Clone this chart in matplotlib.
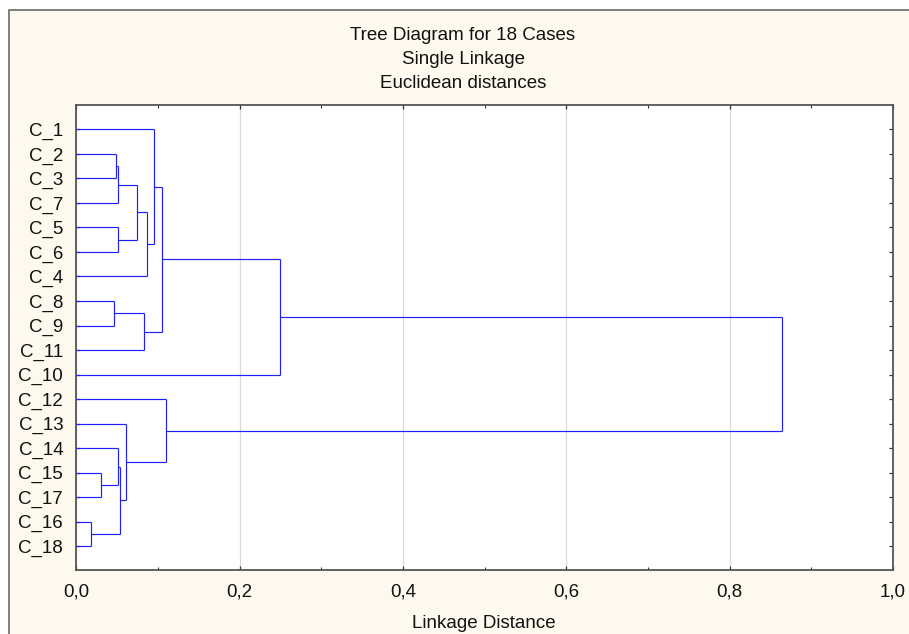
import matplotlib
matplotlib.use("Agg")
import matplotlib.pyplot as plt
from matplotlib.patches import Rectangle
from matplotlib.ticker import MultipleLocator, FuncFormatter

# ---------------- data ----------------
leaf_labels = ["C_1", "C_2", "C_3", "C_7", "C_5", "C_6", "C_4", "C_8", "C_9",
               "C_11", "C_10", "C_12", "C_13", "C_14", "C_15", "C_17", "C_16", "C_18"]
# merges: index < 18 -> leaf (display order); index >= 18 -> earlier merge (18 + k)
merge_left = [16, 14, 7, 1, 13, 21, 4, 22, 12, 23, 20, 27, 0, 30, 11, 31, 33]
merge_right = [17, 15, 8, 2, 19, 3, 5, 18, 25, 24, 9, 6, 29, 28, 26, 10, 32]
merge_height = [0.0176, 0.0306, 0.0458, 0.0482, 0.0507, 0.0515, 0.0515, 0.0531,
                0.0609, 0.0747, 0.0833, 0.0862, 0.0948, 0.1053, 0.110, 0.2498, 0.864]

title_lines = ["Tree Diagram for 18 Cases", "Single Linkage", "Euclidean distances"]
x_label = "Linkage Distance"

# ---------------- figure ----------------
W, H = 909, 634
FS = 13.5
plt.rcParams['font.family'] = ['Liberation Sans', 'DejaVu Sans']
fig = plt.figure(figsize=(W / 100, H / 100), dpi=100)
fig.patch.set_facecolor('white')

cream = '#FDF9EF'
# cream panel with dark border on top/left
fig.patches.append(Rectangle((9 / W, -0.05), 1.1, 1 - 10 / H + 0.05,
                             transform=fig.transFigure, facecolor=cream,
                             edgecolor='#6a6a6a', linewidth=1.2, zorder=-5))

ax = fig.add_axes([76.3 / W, 1 - 570.3 / H, (893 - 76.3) / W, (570.3 - 105.3) / H])
ax.set_zorder(2)
ax.set_facecolor('white')

n = len(leaf_labels)
ypos = {i: float(i) for i in range(n)}
xpos = {i: 0.0 for i in range(n)}
line_color = '#1f1fff'
for k, (a, b, h) in enumerate(zip(merge_left, merge_right, merge_height)):
    ya, yb = ypos[a], ypos[b]
    ax.plot([xpos[a], h], [ya, ya], color=line_color, lw=0.85, solid_capstyle='butt', zorder=3)
    ax.plot([xpos[b], h], [yb, yb], color=line_color, lw=0.85, solid_capstyle='butt', zorder=3)
    ax.plot([h, h], [ya, yb], color=line_color, lw=0.85, solid_capstyle='butt', zorder=3)
    ypos[n + k] = (ya + yb) / 2
    xpos[n + k] = h

ax.set_xlim(0, 1.0)
ax.set_ylim(n - 1 + 0.98, -0.98)
ax.set_yticks(range(n))
ax.set_yticklabels(leaf_labels)
ax.xaxis.set_major_locator(MultipleLocator(0.2))
ax.xaxis.set_minor_locator(MultipleLocator(0.1))
ax.xaxis.set_major_formatter(FuncFormatter(lambda v, p: f"{v:.1f}".replace('.', ',')))

ax.grid(axis='x', which='major', color='#d9d9d9', lw=0.9, zorder=1)
ax.set_axisbelow(True)

ax.tick_params(axis='both', which='major', direction='in', length=3, width=0.9,
               color='#333333', labelsize=FS, labelcolor='#111111',
               top=True, right=True)
ax.tick_params(axis='x', which='major', pad=9.6)
ax.tick_params(axis='y', which='major', pad=9.4, length=3)
ax.tick_params(axis='x', which='minor', direction='in', length=2, width=0.8,
               color='#333333', top=True, bottom=True)
for s in ax.spines.values():
    s.set_color('#555555')
    s.set_linewidth(1.3)

# titles
for txt, base in zip(title_lines, [39.5, 64.0, 88.5]):
    fig.text(463 / W, 1 - base / H, txt, ha='center', va='baseline',
             fontsize=FS, color='#111111')
fig.text(483.5 / W, 1 - 627.7 / H, x_label, ha='center', va='baseline',
         fontsize=FS, color='#111111')

fig.savefig("out.png", dpi=100, facecolor=fig.get_facecolor())
